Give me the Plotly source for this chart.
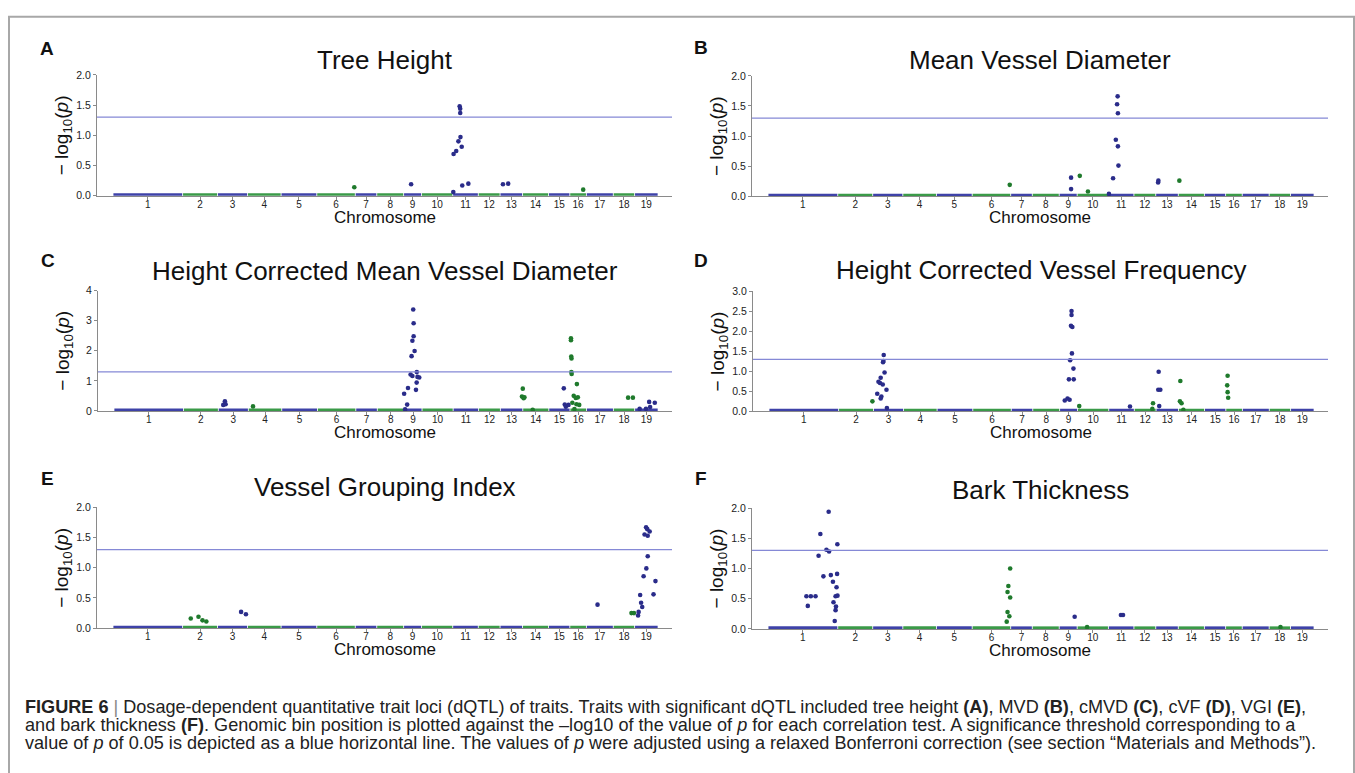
import plotly.graph_objects as go

# ---------------- data ----------------
chrom_names = [str(i) for i in range(1, 20)]
chrom_len = [50.5, 25.3, 21.8, 24.3, 25.9, 27.9, 15.6, 19.5, 13.0, 22.6,
             18.5, 15.8, 16.3, 18.9, 15.4, 12.0, 19.5, 15.5, 17.0]

titles = ["Tree Height", "Mean Vessel Diameter", "Height Corrected Mean Vessel Diameter",
          "Height Corrected Vessel Frequency", "Vessel Grouping Index", "Bark Thickness"]
letters = ["A", "B", "C", "D", "E", "F"]
y_max = [2, 2, 4, 3, 2, 2]
y_dtick = [0.5, 0.5, 1, 0.5, 0.5, 0.5]
threshold = 1.3
band_y = [0.015, 0.015, 0.03, 0.022, 0.015, 0.015]

A_x = [175.0, 216.2, 246.8, 247.0, 248.9, 250.5, 252.0, 252.9, 251.4, 251.8, 251.8, 253.3, 257.7, 282.8, 286.6, 341.0]
A_y = [0.14, 0.19, 0.06, 0.69, 0.74, 0.90, 0.97, 0.81, 1.48, 1.44, 1.37, 0.17, 0.20, 0.19, 0.20, 0.10]
A_chr = [6, 9, 11, 11, 11, 11, 11, 11, 11, 11, 11, 11, 11, 13, 13, 16]

B_x = [175.0, 219.4, 219.4, 225.7, 231.6, 246.8, 249.8, 251.8, 253.3, 253.7, 253.1, 252.7, 253.3, 282.4, 282.6, 297.8]
B_y = [0.19, 0.31, 0.12, 0.34, 0.08, 0.04, 0.30, 0.94, 0.83, 0.51, 1.66, 1.53, 1.38, 0.23, 0.26, 0.26]
B_chr = [6, 9, 9, 10, 10, 11, 11, 11, 11, 11, 11, 11, 11, 13, 13, 14]

C_x = [79.4, 80.6, 81.1, 101.0,
       210.8, 213.6, 213.0, 211.5, 217.4, 217.7, 217.7, 216.8, 218.4, 216.2, 215.5, 216.8, 220.0, 220.5, 219.9, 219.4, 221.8,
       297.0, 296.4, 297.6, 298.2, 304.2,
       326.8, 327.5, 328.3, 330.2,
       332.0, 332.0, 332.2, 332.4, 332.3, 332.5,
       336.3, 334.0, 335.5, 333.0, 337.0, 336.0, 338.0, 334.5,
       373.5, 377.0,
       381.9, 386.5, 388.8, 389.5, 392.9]
C_y = [0.20, 0.32, 0.22, 0.15,
       0.57, 0.76, 0.21, 0.05, 3.37, 2.91, 2.48, 2.33, 1.99, 1.82, 1.21, 1.16, 1.29, 1.13, 0.94, 0.70, 1.11,
       0.74, 0.48, 0.42, 0.45, 0.04,
       0.75, 0.21, 0.14, 0.20,
       2.41, 2.35, 1.81, 1.74, 1.29, 1.23,
       0.89, 0.50, 0.43, 0.27, 0.45, 0.22, 0.20, 0.06,
       0.44, 0.44,
       0.07, 0.07, 0.30, 0.13, 0.27]
C_chr = [3, 3, 3, 4] + [9] * 17 + [14] * 5 + [15] * 4 + [16] * 14 + [18] * 2 + [19] * 5

D_x = [75.0,
       83.2, 82.7, 83.0, 83.8, 81.0, 79.4, 80.5, 82.5, 85.2, 78.5, 81.5, 81.0, 85.5,
       219.4, 219.4, 219.0, 220.0, 219.7, 218.4, 220.8, 217.5, 221.0, 214.5, 216.5, 218.0,
       225.0, 261.8, 278.5, 278.0,
       282.6, 282.3, 283.8, 283.0,
       298.3, 298.0, 299.2, 300.5,
       332.6, 332.3, 332.6, 333.0]
D_y = [0.25,
       1.41, 1.23, 1.26, 0.97, 0.84, 0.74, 0.71, 0.67, 0.54, 0.44, 0.37, 0.32, 0.08,
       2.51, 2.41, 2.14, 2.11, 1.45, 1.28, 1.07, 0.80, 0.80, 0.27, 0.32, 0.29,
       0.13, 0.12, 0.20, 0.06,
       0.99, 0.54, 0.54, 0.13,
       0.76, 0.25, 0.20, 0.04,
       0.89, 0.65, 0.48, 0.34]
D_chr = [2] + [3] * 13 + [9] * 12 + [10, 11, 12, 12] + [13] * 4 + [14] * 4 + [16] * 4

E_x = [56.4, 62.0, 64.9, 67.7, 92.9, 96.4, 351.4, 376.0, 377.8,
       386.6, 387.5, 385.5, 387.8, 389.2, 387.8, 386.8, 384.8, 393.4, 382.3, 392.0, 383.0, 383.8, 381.2, 380.8]
E_y = [0.16, 0.19, 0.13, 0.11, 0.27, 0.23, 0.39, 0.25, 0.25,
       1.67, 1.64, 1.55, 1.53, 1.60, 1.19, 0.99, 0.86, 0.78, 0.55, 0.56, 0.42, 0.35, 0.27, 0.21]
E_chr = [2, 2, 2, 2, 3, 3, 17, 18, 18] + [19] * 15

F_x = [43.9, 37.9, 42.3, 44.2, 50.2, 36.6, 40.1, 45.5, 50.0, 47.0, 49.6, 27.8, 31.0, 34.4, 48.9, 50.3,
       47.4, 49.2, 28.8, 48.9, 48.3,
       175.3, 174.0, 173.4, 175.3, 173.4, 174.7, 172.8,
       222.0, 231.0, 255.5, 257.0, 371.0]
F_y = [1.94, 1.57, 1.31, 1.28, 1.40, 1.21, 0.87, 0.89, 0.91, 0.78, 0.69, 0.54, 0.54, 0.54, 0.54, 0.55,
       0.44, 0.37, 0.38, 0.31, 0.13,
       1.00, 0.71, 0.61, 0.52, 0.28, 0.21, 0.12,
       0.20, 0.03, 0.23, 0.23, 0.03]
F_chr = [1] * 21 + [6] * 7 + [9, 10, 11, 11, 18]

panels_x = [A_x, B_x, C_x, D_x, E_x, F_x]
panels_y = [A_y, B_y, C_y, D_y, E_y, F_y]
panels_chr = [A_chr, B_chr, C_chr, D_chr, E_chr, F_chr]

caption_lines = [
    "<b>FIGURE 6</b> <span style='color:#888'>|</span> Dosage-dependent quantitative trait loci (dQTL) of traits. Traits with significant dQTL included tree height <b>(A)</b>, MVD <b>(B)</b>, cMVD <b>(C)</b>, cVF <b>(D)</b>, VGI <b>(E)</b>,",
    "and bark thickness <b>(F)</b>. Genomic bin position is plotted against the \u2013log10 of the value of <i>p</i> for each correlation test. A significance threshold corresponding to a",
    "value of <i>p</i> of 0.05 is depicted as a blue horizontal line. The values of <i>p</i> were adjusted using a relaxed Bonferroni correction (see section \u201cMaterials and Methods\u201d).",
]

# ---------------- styling / layout ----------------
W, H = 1355, 773
BLUE_PT, GREEN_PT = "#2A2C8A", "#1F7A2C"
BLUE_BAND, GREEN_BAND = "#3E42A8", "#3A9A48"
AXIS_COL = "#8a8a8a"
FONT = "Liberation Sans, Arial, sans-serif"
TICKFONT = "Liberation Sans Narrow, Liberation Sans, Arial, sans-serif"

# pixel boxes (left, right, top, bottom) per panel
boxes = [(97, 672, 70, 192.7), (752, 1328, 71, 193.3),
         (98, 672, 289, 411.3), (753, 1328, 290, 411.7),
         (97, 672, 509.3, 632), (752, 1328, 510, 632.7)]
letter_pos = [(47, 43), (701, 42), (48, 259), (701, 259), (47, 480), (701, 480)]
title_y = [55, 55, 269, 268, 489, 492]
xrange_ = [-11.6, 405.4]

starts = []
acc = 0.0
for L in chrom_len:
    starts.append(acc)
    acc += L
ends = [s + L for s, L in zip(starts, chrom_len)]
centers = [s + L / 2 for s, L in zip(starts, chrom_len)]

fig = go.Figure()
annotations = []
shapes = []


def px_x(v):
    return v / W


def px_y(v):
    return 1 - v / H


for i in range(6):
    xa = "x" if i == 0 else f"x{i + 1}"
    ya = "y" if i == 0 else f"y{i + 1}"
    l, r, t, b = boxes[i]
    # baseline band of non-significant bins, one segment per chromosome
    for c in range(19):
        fig.add_trace(go.Scatter(
            x=[starts[c] + 0.3, ends[c] - 0.3], y=[band_y[i], band_y[i]],
            mode="lines", line=dict(color=BLUE_BAND if c % 2 == 0 else GREEN_BAND, width=3.2),
            xaxis=xa, yaxis=ya, showlegend=False, hoverinfo="skip"))
    cols = [BLUE_PT if ch % 2 == 1 else GREEN_PT for ch in panels_chr[i]]
    fig.add_trace(go.Scatter(
        x=panels_x[i], y=panels_y[i], mode="markers",
        marker=dict(color=cols, size=4.6, line=dict(width=0)),
        xaxis=xa, yaxis=ya, showlegend=False))

    axkey = "xaxis" if i == 0 else f"xaxis{i + 1}"
    aykey = "yaxis" if i == 0 else f"yaxis{i + 1}"
    fig.layout[axkey] = dict(
        domain=[px_x(l), px_x(r)], range=xrange_, anchor=ya,
        tickmode="array", tickvals=centers, ticktext=chrom_names,
        showline=True, linecolor=AXIS_COL, linewidth=1,
        ticks="outside", ticklen=3, tickcolor=AXIS_COL, tickwidth=1,
        ticklabelstandoff=-4,
        tickfont=dict(family=TICKFONT, size=10, color="#222"),
        showgrid=False, zeroline=False, fixedrange=True)
    fmt = "d" if y_dtick[i] == 1 else ".1f"
    fig.layout[aykey] = dict(
        domain=[px_y(b), px_y(t)], range=[0, y_max[i]], anchor=xa,
        dtick=y_dtick[i], tick0=0, tickformat=fmt,
        showline=True, linecolor=AXIS_COL, linewidth=1,
        ticks="outside", ticklen=3, tickcolor=AXIS_COL, tickwidth=1,
        tickfont=dict(family=TICKFONT, size=10.5, color="#222"),
        showgrid=False, zeroline=False, fixedrange=True)

    shapes.append(dict(type="line", xref=f"{xa} domain", yref=ya, x0=0, x1=1,
                       y0=threshold, y1=threshold, line=dict(color="#8589D6", width=1.3)))

    cx = (l + r) / 2
    annotations.append(dict(text=titles[i], x=px_x(cx), y=px_y(title_y[i]), xref="paper", yref="paper",
                            xanchor="center", yanchor="middle", showarrow=False,
                            font=dict(family=FONT, size=26, color="#111")))
    annotations.append(dict(text="<b>" + letters[i] + "</b>", x=px_x(letter_pos[i][0]),
                            y=px_y(letter_pos[i][1]), xref="paper", yref="paper",
                            xanchor="center", yanchor="middle", showarrow=False,
                            font=dict(family=FONT, size=19, color="#111")))
    annotations.append(dict(text="\u2212 log<sub>10</sub>(<i>p</i>)", x=px_x(l - 34), y=px_y((t + b) / 2),
                            xref="paper", yref="paper", xanchor="center", yanchor="middle",
                            textangle=-90, showarrow=False,
                            font=dict(family=FONT, size=19, color="#111")))
    annotations.append(dict(text="Chromosome", x=px_x(cx), y=px_y(b + 22), xref="paper", yref="paper",
                            xanchor="center", yanchor="middle", showarrow=False,
                            font=dict(family=FONT, size=17, color="#111")))

cap_y = [712, 730.5, 749]
for k, line in enumerate(caption_lines):
    annotations.append(dict(text=line, x=px_x(23), y=px_y(cap_y[k]), xref="paper", yref="paper",
                            xanchor="left", yanchor="middle", showarrow=False,
                            font=dict(family=FONT, size=18.1, color="#222")))

shapes.append(dict(type="rect", xref="paper", yref="paper", x0=px_x(9), x1=px_x(1354),
                   y0=-0.02, y1=px_y(11), line=dict(color="#A8A8A8", width=2)))

fig.update_layout(width=W, height=H, margin=dict(l=0, r=0, t=0, b=0),
                  paper_bgcolor="white", plot_bgcolor="white",
                  annotations=annotations, shapes=shapes, showlegend=False,
                  font=dict(family=FONT))

fig.write_html("out.html")
